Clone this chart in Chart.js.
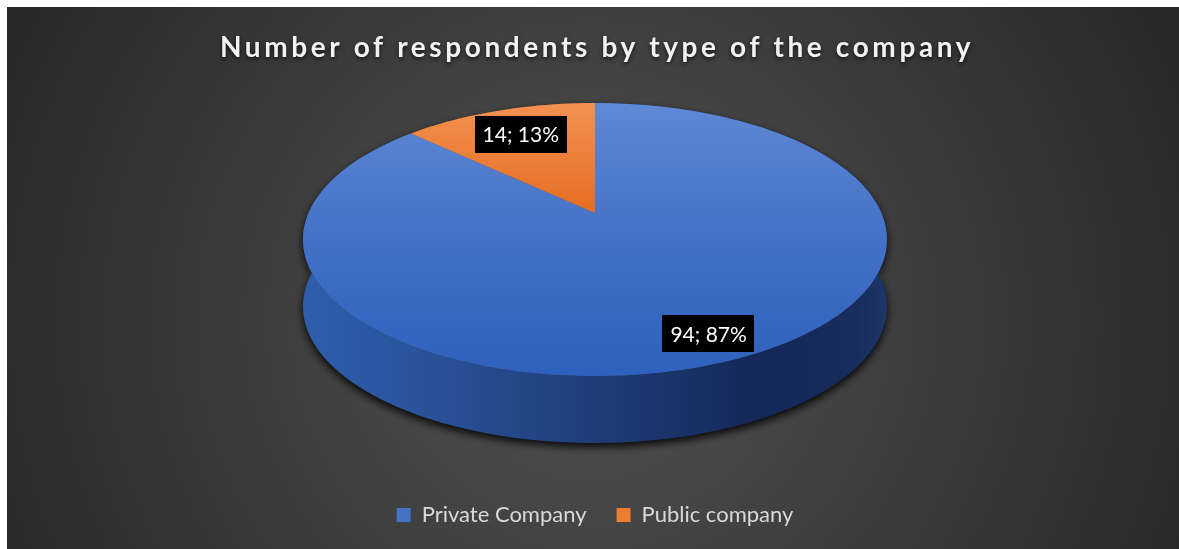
<!DOCTYPE html>
<html>
<head>
<meta charset="utf-8">
<script src="https://cdn.jsdelivr.net/npm/chart.js@4.4.0/dist/chart.umd.min.js"></script>
<style>
  html, body { margin: 0; padding: 0; background: #ffffff; }
  canvas { display: block; }
</style>
</head>
<body>
<canvas id="companyChart" width="1179" height="549"></canvas>
<script>
// data
const chartTitle = 'Number of respondents by type of the company';
const categories = ['Private Company', 'Public company'];
const respondents = [94, 14];

// colours
const legendColors = ['#4472C4', '#ED7D31'];
const topColors = [
    [[0, '#5f88d5'], [0.5, '#4371c6'], [1, '#2d61bd']],
    [[0, '#f39152'], [0.45, '#e4691c'], [1, '#d85c12']]
];
const sideColors = [
    [[0, '#2f5eae'], [0.25, '#284f95'], [0.5, '#1f3d78'], [0.78, '#142858'], [0.95, '#172d5d'], [1, '#1d3668']],
    [[0, '#a9531b'], [1, '#7a3a10']]
];

// maps a point of the flat pie (angle, fraction of radius) onto the tilted disc
function project(cx, cy, rx, ry, tilt, angle, f) {
    const u = Math.cos(angle) * f;
    const v = Math.sin(angle) * f;
    const k = Math.sqrt(1 - tilt * tilt);
    const d = 1 - tilt * v;
    return { x: cx + rx * u * k / d, y: cy + ry * (v - tilt) / d };
}

function rimPoints(arc, cx, cy, rx, ry, tilt) {
    const pts = [];
    const span = arc.endAngle - arc.startAngle;
    const n = Math.max(2, Math.ceil(span / (2 * Math.PI) * 180));
    for (let s = 0; s <= n; s++) {
        pts.push(project(cx, cy, rx, ry, tilt, arc.startAngle + span * s / n, 1));
    }
    return pts;
}

function makeGradient(ctx, x0, y0, x1, y1, stops) {
    const g = ctx.createLinearGradient(x0, y0, x1, y1);
    stops.forEach(([s, c]) => g.addColorStop(s, c));
    return g;
}

const background = {
    id: 'background',
    beforeDraw(chart) {
        const ctx = chart.ctx;
        const w = chart.width, h = chart.height;
        ctx.save();
        ctx.fillStyle = '#ffffff';
        ctx.fillRect(0, 0, w, h);
        const g = ctx.createRadialGradient(590, 320, 0, 590, 320, 700);
        g.addColorStop(0, '#525252');
        g.addColorStop(1, '#252525');
        ctx.fillStyle = g;
        ctx.fillRect(7, 7, w - 7, h - 7);
        ctx.restore();
    }
};

const pie3d = {
    id: 'pie3d',
    beforeDatasetsDraw(chart, args, opts) {
        const ctx = chart.ctx;
        const arcs = chart.getDatasetMeta(0).data;
        if (!arcs.length) return false;
        const cx = arcs[0].x, cy = arcs[0].y, r = arcs[0].outerRadius;
        const rx = r * opts.stretch, ry = r, depth = r * opts.depth;

        // side walls
        ctx.save();
        arcs.forEach((arc, i) => {
            const pts = rimPoints(arc, cx, cy, rx, ry, opts.tilt);
            ctx.beginPath();
            pts.forEach((p, j) => j ? ctx.lineTo(p.x, p.y) : ctx.moveTo(p.x, p.y));
            for (let j = pts.length - 1; j >= 0; j--) ctx.lineTo(pts[j].x, pts[j].y + depth);
            ctx.closePath();
            ctx.shadowColor = 'rgba(0,0,0,0.9)';
            ctx.shadowBlur = 8;
            ctx.shadowOffsetY = 4;
            ctx.fillStyle = makeGradient(ctx, cx - rx, 0, cx + rx, 0, sideColors[i]);
            ctx.fill();
        });
        ctx.restore();

        // top faces
        ctx.save();
        const c = project(cx, cy, rx, ry, opts.tilt, 0, 0);
        arcs.forEach((arc, i) => {
            const pts = rimPoints(arc, cx, cy, rx, ry, opts.tilt);
            ctx.beginPath();
            ctx.moveTo(c.x, c.y);
            pts.forEach(p => ctx.lineTo(p.x, p.y));
            ctx.closePath();
            ctx.fillStyle = makeGradient(ctx, 0, cy - ry, 0, cy + ry, topColors[i]);
            ctx.fill();
        });
        ctx.restore();
        return false;
    },
    afterDraw(chart, args, opts) {
        const ctx = chart.ctx;
        const arcs = chart.getDatasetMeta(0).data;
        const cx = arcs[0].x, cy = arcs[0].y, r = arcs[0].outerRadius;
        const rx = r * opts.stretch, ry = r;
        const total = respondents.reduce((a, b) => a + b, 0);

        // data labels
        ctx.save();
        ctx.font = '21px Lato';
        ctx.textAlign = 'center';
        ctx.textBaseline = 'middle';
        arcs.forEach((arc, i) => {
            const mid = (arc.startAngle + arc.endAngle) / 2;
            const p = project(cx, cy, rx, ry, opts.tilt, mid, opts.labelRadius[i]);
            const text = respondents[i] + '; ' + Math.round(respondents[i] / total * 100) + '%';
            const w = ctx.measureText(text).width + 16;
            const h = 37;
            ctx.fillStyle = '#000000';
            ctx.fillRect(Math.round(p.x - w / 2), Math.round(p.y - h / 2), Math.round(w), h);
            ctx.fillStyle = '#ffffff';
            ctx.fillText(text, p.x, p.y + 1);
        });
        ctx.restore();

        // title with letter spacing and soft shadow
        ctx.save();
        ctx.font = 'bold 28px Lato';
        ctx.letterSpacing = '3.6px';
        ctx.textAlign = 'center';
        ctx.textBaseline = 'middle';
        ctx.shadowColor = 'rgba(0,0,0,0.7)';
        ctx.shadowBlur = 4;
        ctx.shadowOffsetY = 2;
        ctx.fillStyle = '#f2f2f2';
        ctx.fillText(chartTitle, 597, 48);
        ctx.restore();
    }
};

const chart = new Chart(document.getElementById('companyChart'), {
    type: 'pie',
    data: {
        labels: categories,
        datasets: [{
            data: respondents,
            backgroundColor: legendColors,
            borderWidth: 0
        }]
    },
    options: {
        responsive: false,
        animation: false,
        layout: { padding: { top: 103, left: 18, right: 7, bottom: 13 } },
        plugins: {
            tooltip: { enabled: false },
            title: { display: false },
            legend: {
                position: 'bottom',
                title: { display: true, text: '', font: { size: 10, lineHeight: 1 }, padding: { top: 88, bottom: 0 } },
                labels: {
                    color: '#d9d9d9',
                    font: { family: 'Lato', size: 22 },
                    boxWidth: 14,
                    boxHeight: 14,
                    padding: 30
                }
            },
            pie3d: {
                stretch: 292 / 136.5,
                depth: 67 / 136.5,
                tilt: 0.194,
                labelRadius: [0.85, 0.74]
            }
        }
    },
    plugins: [background, pie3d]
});
</script>
</body>
</html>
